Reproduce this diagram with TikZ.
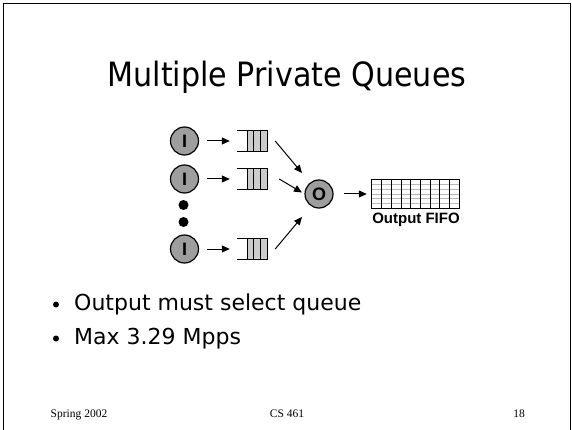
\documentclass[tikz,border=0pt]{standalone}
\usepackage{fontspec}
\setmainfont{Liberation Serif}
\newfontfamily\tah{DejaVu Sans Condensed}
\newfontfamily\verd{DejaVu Sans}
\newfontfamily\arl{Liberation Sans}
\usetikzlibrary{arrows.meta,calc}
\definecolor{cgray}{gray}{0.62}
\definecolor{qgray}{gray}{0.8}
\tikzset{
  inp/.style={circle, draw, line width=1.2pt, fill=cgray, minimum size=28pt, inner sep=0pt,
    font=\arl\bfseries\fontsize{18}{18}\selectfont},
  bigdot/.style={circle, fill=black, minimum size=10pt, inner sep=0pt},
  qbox/.style={minimum width=30pt, minimum height=20pt, inner sep=0pt},
  arr/.style={line width=1pt, -{Triangle[length=8pt,width=7pt]}},
  bul/.style={circle, fill=black, minimum size=6pt, inner sep=0pt},
  btext/.style={anchor=base west, font=\verd\fontsize{22}{22}\selectfont, inner sep=0pt},
  foot/.style={anchor=base, font=\fontsize{11.5}{12}\selectfont, inner sep=0pt}
}
\newcommand\drawqueue[1]{%
  \fill[qgray] ($(#1.north east)+(-20,0)$) rectangle (#1.south east);
  \foreach \k in {20,13.33,6.67}
    \draw[line width=0.8pt] ($(#1.north east)+(-\k,0)$) -- ($(#1.south east)+(-\k,0)$);
  \draw[line width=0.8pt] (#1.north west) -- (#1.north east) -- (#1.south east) -- (#1.south west);
}
\begin{document}
\begin{tikzpicture}[x=1pt,y=-1pt]
\useasboundingbox (0,0) rectangle (572,430);
\fill[white] (0,0) rectangle (572,430);
\draw[line width=1.5pt] (3.5,431) -- (3.5,3.5) -- (570.5,3.5) -- (570.5,431);

\node[anchor=base, inner sep=0pt, font=\tah\fontsize{33.5}{33.5}\selectfont] (title) at (287,87) {Multiple Private Queues};

% inputs
\node[inp] (i1) at (184.5,141) {I};
\node[inp] (i2) at (184.5,179) {I};
\node[bigdot] (d1) at (183.5,205) {};
\node[bigdot] (d2) at (183.5,222) {};
\node[inp] (i3) at (184.5,249) {I};

% queues
\node[qbox] (q1) at (252,141) {};
\node[qbox] (q2) at (252,179) {};
\node[qbox] (q3) at (252,249) {};
\drawqueue{q1}
\drawqueue{q2}
\drawqueue{q3}

% output
\node[inp] (o) at (319,194) {O};
\node[minimum width=87pt, minimum height=28pt, inner sep=0pt, fill=white] (fifo) at (415.5,194) {};
\foreach \k in {1,...,5}
  \draw[gray!55, line width=0.6pt] ($(fifo.north west)!\k/6!(fifo.south west)$) -- ($(fifo.north east)!\k/6!(fifo.south east)$);
\foreach \k in {1,...,8}
  \draw[line width=0.8pt] ($(fifo.north west)!\k/9!(fifo.north east)$) -- ($(fifo.south west)!\k/9!(fifo.south east)$);
\draw[line width=1pt] (fifo.north west) rectangle (fifo.south east);
\node[anchor=base, inner sep=0pt, font=\arl\bfseries\fontsize{15}{15}\selectfont] (lab) at (416,223) {Output FIFO};

% arrows
\draw[arr] ([xshift=8pt]i1.east) -- ([xshift=-7pt]q1.west);
\draw[arr] ([xshift=8pt]i2.east) -- ([xshift=-7pt]q2.west);
\draw[arr] ([xshift=8pt]i3.east) -- ([xshift=-7pt]q3.west);
\draw[arr] ([shift={(8,0)}]q1.east) -- ([shift={(-17,-21)}]o.center);
\draw[arr] ([shift={(12,0)}]q2.east) -- ([shift={(-17,-1.5)}]o.center);
\draw[arr] ([shift={(8,0)}]q3.east) -- ([shift={(-17,23)}]o.center);
\draw[arr] ([xshift=10pt]o.east) -- ([xshift=-5pt]fifo.west);

% bullets
\node[bul] (bu1) at (56,304.5) {};
\node[btext] (t1) at (74,310) {Output must select queue};
\node[bul] (bu2) at (56,338.5) {};
\node[btext] (t2) at (74,344) {Max 3.29 Mpps};

% footer
\node[foot] (f1) at (79,417) {Spring 2002};
\node[foot] (f2) at (287,417) {CS 461};
\node[foot] (f3) at (519,417) {18};
\end{tikzpicture}
\end{document}
